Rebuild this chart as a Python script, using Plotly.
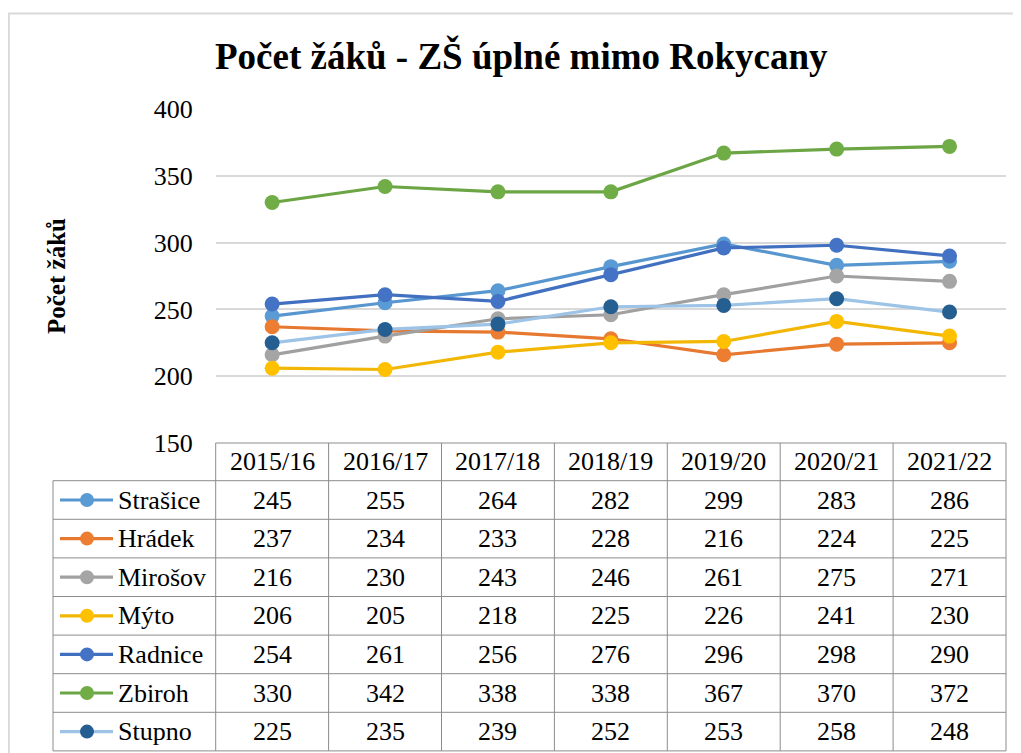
import plotly.graph_objects as go

W, H = 1021, 753

title = "Počet žáků - ZŠ úplné mimo Rokycany"
y_title = "Počet žáků"
categories = ["2015/16", "2016/17", "2017/18", "2018/19", "2019/20", "2020/21", "2021/22"]
series_names = ["Strašice", "Hrádek", "Mirošov", "Mýto", "Radnice", "Zbiroh", "Stupno"]
strasice = [245, 255, 264, 282, 299, 283, 286]
hradek = [237, 234, 233, 228, 216, 224, 225]
mirosov = [216, 230, 243, 246, 261, 275, 271]
myto = [206, 205, 218, 225, 226, 241, 230]
radnice = [254, 261, 256, 276, 296, 298, 290]
zbiroh = [330, 342, 338, 338, 367, 370, 372]
stupno = [225, 235, 239, 252, 253, 258, 248]
series_values = [strasice, hradek, mirosov, myto, radnice, zbiroh, stupno]
line_colors = ["#5796CF", "#E67830", "#A0A0A0", "#F2B705", "#4270C0", "#6BA544", "#9DC3E6"]
marker_colors = ["#5B9BD5", "#ED7D31", "#A5A5A5", "#FFC000", "#4472C4", "#70AD47", "#255E91"]
y_ticks = [150, 200, 250, 300, 350, 400]

# page offset (body margin) compensation
OFF = 8
PX0, PX1 = 215.7, 1006.0
PY_TOP, PY_BOT = 109.0, 443.0
LEG_X0 = 53.0
HEADER_BOT = 480.7
ROW_H = 38.6


def px(x):
    return (x - OFF) / W


def py(y):
    return 1 - (y - OFF) / H


FONT = "Liberation Serif"
GRID = "#D9D9D9"
BORDER = "#8C8C8C"

fig = go.Figure()
xs = list(range(len(categories)))
for name, vals, lc, mc in zip(series_names, series_values, line_colors, marker_colors):
    fig.add_trace(go.Scatter(
        x=xs, y=vals, mode="lines+markers", name=name,
        line=dict(color=lc, width=3.2),
        marker=dict(color=mc, size=15),
        showlegend=False, cliponaxis=False,
    ))

shapes = []
annotations = []

n_cols = len(categories)
col_w = (PX1 - PX0) / n_cols
n_rows = len(series_names)
table_bot = HEADER_BOT + n_rows * ROW_H
line_style = dict(color=BORDER, width=1)

shapes.append(dict(type="line", xref="paper", yref="paper", x0=px(PX0), x1=px(PX1),
                   y0=py(PY_BOT), y1=py(PY_BOT), line=line_style))
for r in range(n_rows + 1):
    yy = HEADER_BOT + r * ROW_H
    shapes.append(dict(type="line", xref="paper", yref="paper", x0=px(LEG_X0), x1=px(PX1),
                       y0=py(yy), y1=py(yy), line=line_style))
shapes.append(dict(type="line", xref="paper", yref="paper", x0=px(LEG_X0), x1=px(LEG_X0),
                   y0=py(HEADER_BOT), y1=py(table_bot), line=line_style))
for c in range(n_cols + 1):
    xx = PX0 + c * col_w
    shapes.append(dict(type="line", xref="paper", yref="paper", x0=px(xx), x1=px(xx),
                       y0=py(PY_BOT), y1=py(table_bot), line=line_style))

TFS = 26
for c, cat in enumerate(categories):
    annotations.append(dict(text=cat, xref="paper", yref="paper",
                            x=px(PX0 + (c + 0.5) * col_w), y=py((PY_BOT + HEADER_BOT) / 2),
                            showarrow=False, xanchor="center", yanchor="middle",
                            font=dict(family=FONT, size=TFS, color="black")))
for r, (name, vals, lc, mc) in enumerate(zip(series_names, series_values, line_colors, marker_colors)):
    yc = HEADER_BOT + (r + 0.5) * ROW_H
    for c, v in enumerate(vals):
        annotations.append(dict(text=str(v), xref="paper", yref="paper",
                                x=px(PX0 + (c + 0.5) * col_w), y=py(yc),
                                showarrow=False, xanchor="center", yanchor="middle",
                                font=dict(family=FONT, size=TFS, color="black")))
    shapes.append(dict(type="line", xref="paper", yref="paper", x0=px(60), x1=px(113),
                       y0=py(yc), y1=py(yc), line=dict(color=lc, width=3.2)))
    rr = 7
    shapes.append(dict(type="circle", xref="paper", yref="paper",
                       x0=px(87 - rr), x1=px(87 + rr), y0=py(yc - rr), y1=py(yc + rr),
                       fillcolor=mc, line=dict(color=mc, width=0)))
    annotations.append(dict(text=name, xref="paper", yref="paper",
                            x=px(116), y=py(yc), showarrow=False,
                            xanchor="left", yanchor="middle",
                            font=dict(family=FONT, size=TFS, color="black")))

# chart area border (left and top)
shapes.append(dict(type="line", xref="paper", yref="paper", x0=px(8.8), x1=px(8.8),
                   y0=0, y1=py(13), line=dict(color=GRID, width=2)))
shapes.append(dict(type="line", xref="paper", yref="paper", x0=px(7.8), x1=1,
                   y0=py(13.5), y1=py(13.5), line=dict(color=GRID, width=2)))

annotations.append(dict(text="<b>" + y_title + "</b>", xref="paper", yref="paper",
                        x=px(56), y=py(276), showarrow=False, textangle=-90,
                        xanchor="center", yanchor="middle",
                        font=dict(family=FONT, size=25, color="black")))

annotations.append(dict(text="<b>" + title + "</b>", xref="paper", yref="paper",
                        x=px(521), y=py(56), showarrow=False,
                        xanchor="center", yanchor="middle",
                        font=dict(family=FONT, size=37, color="black")))

fig.update_layout(
    width=W, height=H,
    margin=dict(l=0, r=0, t=0, b=0, autoexpand=False),
    paper_bgcolor="white", plot_bgcolor="white",
    xaxis=dict(domain=[px(PX0), px(PX1)], range=[-0.5, n_cols - 0.5], automargin=False,
               showgrid=False, zeroline=False, showticklabels=False, showline=False),
    yaxis=dict(domain=[py(PY_BOT), py(PY_TOP)], range=[150, 400], automargin=False,
               tickvals=y_ticks, showgrid=True, gridcolor=GRID, gridwidth=1.5,
               zeroline=False, showline=False, ticks="", ticklabelstandoff=22,
               tickfont=dict(family=FONT, size=26, color="black")),
    shapes=shapes,
    annotations=annotations,
)

fig.write_html("out.html")
